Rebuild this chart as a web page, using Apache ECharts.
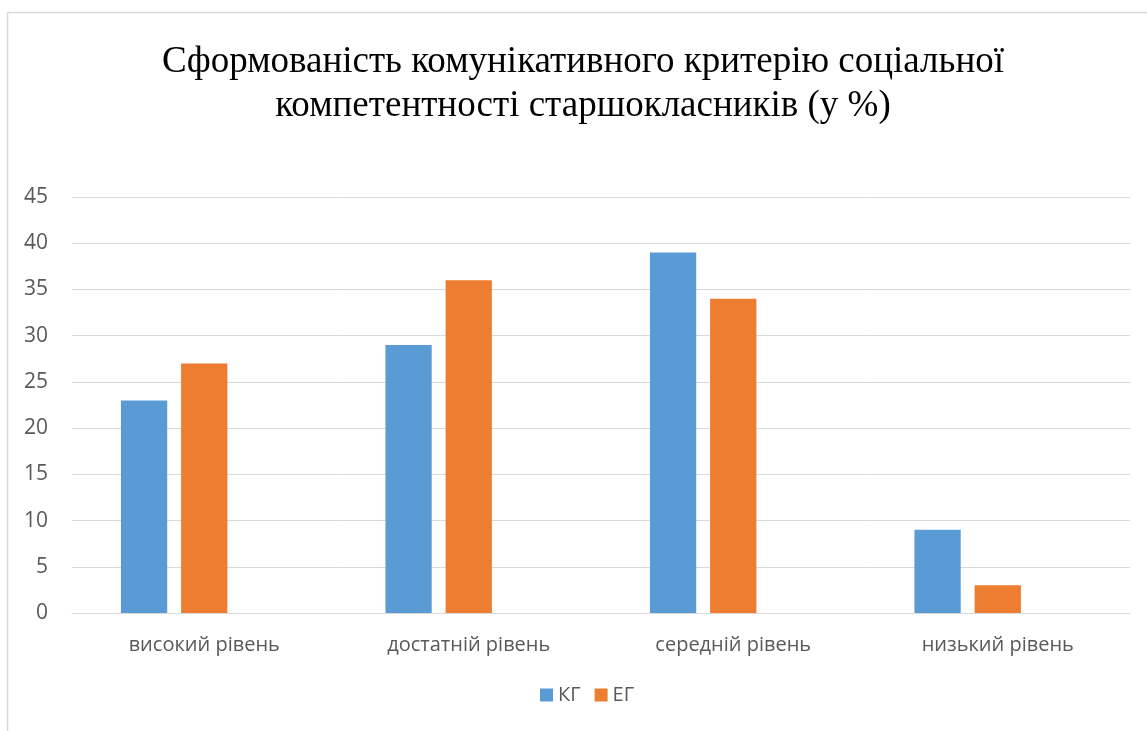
<!DOCTYPE html>
<html>
<head>
<meta charset="utf-8">
<script src="https://cdn.jsdelivr.net/npm/echarts@6/dist/echarts.min.js"></script>
<style>html,body{margin:0;padding:0;background:#fff}#c{width:1147px;height:731px}</style>
</head>
<body>
<div id="c"></div>
<script>
var titleText = 'Сформованість комунікативного критерію соціальної\nкомпетентності старшокласників (у %)';
var categories = ['високий рівень', 'достатній рівень', 'середній рівень', 'низький рівень'];
var seriesNames = ['КГ', 'ЕГ'];
var kgValues = [23, 29, 39, 9];
var egValues = [27, 36, 34, 3];
var emptyValues = [null, null, null, null];

var chart = echarts.init(document.getElementById('c'), null, {renderer: 'canvas'});
chart.setOption({
  animation: false,
  backgroundColor: '#fff',
  graphic: [{
    type: 'rect', silent: true,
    shape: {x: 7.5, y: 12.5, width: 1300, height: 900},
    style: {fill: 'none', stroke: '#d9d9d9', lineWidth: 1.5}
  }],
  title: {
    text: titleText, left: 578, textAlign: 'center', top: 35,
    textStyle: {fontFamily: 'Liberation Serif', fontSize: 37, fontWeight: 'normal', color: '#000', lineHeight: 44}
  },
  legend: {
    data: seriesNames, bottom: 21, left: 535,
    itemWidth: 13, itemHeight: 13, itemGap: 14, icon: 'rect',
    textStyle: {fontFamily: 'Open Sans', fontSize: 20, color: '#595959'}
  },
  grid: {left: 72, right: 17, top: 197, bottom: 118, containLabel: false},
  xAxis: {
    type: 'category', data: categories,
    axisLine: {show: true, lineStyle: {color: '#d9d9d9'}},
    axisTick: {show: false},
    axisLabel: {fontFamily: 'Open Sans', fontSize: 20, color: '#595959', margin: 22}
  },
  yAxis: {
    type: 'value', min: 0, max: 45, interval: 5,
    axisLine: {show: false}, axisTick: {show: false},
    splitLine: {lineStyle: {color: '#d9d9d9', width: 1}},
    axisLabel: {fontFamily: 'Open Sans', fontSize: 21, color: '#595959', margin: 24}
  },
  series: [
    {name: seriesNames[0], type: 'bar', data: kgValues, itemStyle: {color: '#5b9bd5'}, barGap: '30%', barCategoryGap: '37%'},
    {name: seriesNames[1], type: 'bar', data: egValues, itemStyle: {color: '#ed7d31'}},
    {name: 'Ряд 3', type: 'bar', data: emptyValues, itemStyle: {color: '#a5a5a5'}}
  ]
});
</script>
</body>
</html>
